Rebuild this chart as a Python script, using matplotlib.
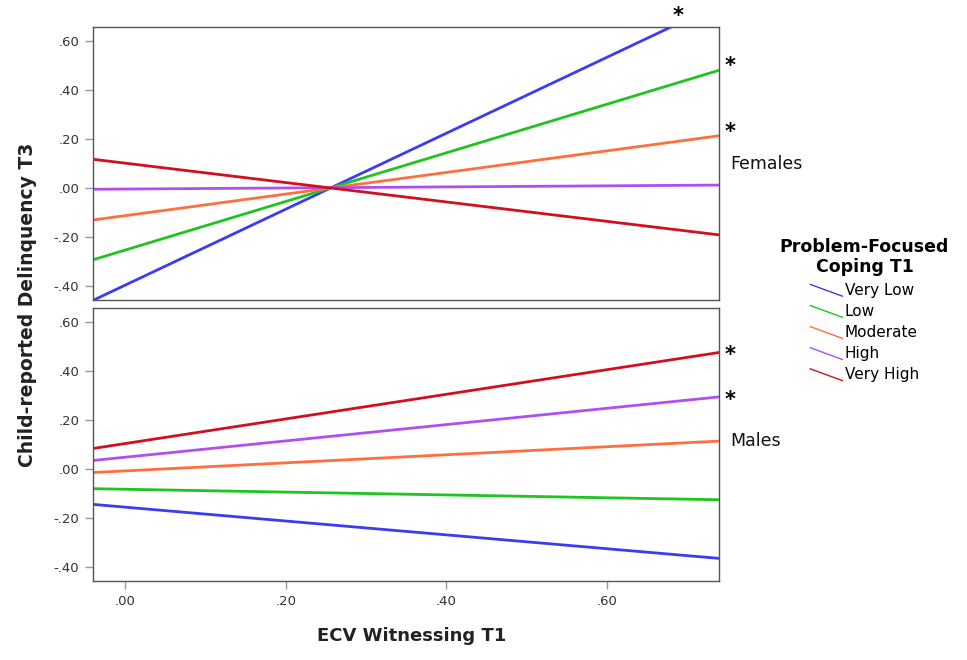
"""Simple slopes plot: ECV witnessing x problem-focused coping, by sex."""

import matplotlib
matplotlib.use("Agg")
import matplotlib.pyplot as plt
from matplotlib.lines import Line2D
from matplotlib.legend_handler import HandlerLine2D
from matplotlib.ticker import FuncFormatter

# ----------------------------------------------------------------------
# Data
# ----------------------------------------------------------------------
levels = ["Very Low", "Low", "Moderate", "High", "Very High"]
colors = ["#3b3bf2", "#1fc41f", "#ff6f3c", "#b04ff0", "#d0101e"]

x_ends = [-0.04, 0.74]

# predicted values at x_ends
females = {
    "Very Low":  [-0.456, 0.750],
    "Low":       [-0.291, 0.481],
    "Moderate":  [-0.129, 0.214],
    "High":      [-0.004, 0.013],
    "Very High": [0.118, -0.190],
}
males = {
    "Very Low":  [-0.143, -0.363],
    "Low":       [-0.079, -0.124],
    "Moderate":  [-0.013, 0.115],
    "High":      [0.036, 0.295],
    "Very High": [0.085, 0.476],
}

female_sig = ["Very Low", "Low", "Moderate"]
male_sig = ["Very High", "High"]

x_ticks = [0.0, 0.2, 0.4, 0.6]
y_ticks = [-0.4, -0.2, 0.0, 0.2, 0.4, 0.6]
xlim = (-0.04, 0.74)
ylim = (-0.455, 0.657)

GREY = "#555555"


def fmt(v, _pos=None):
    s = f"{v:.2f}"
    return s.replace("0.", ".", 1)


class DiagonalHandler(HandlerLine2D):
    """SPSS-style slanted legend sample."""

    def create_artists(self, legend, orig_handle, xdescent, ydescent,
                       width, height, fontsize, trans):
        line = Line2D([-xdescent, -xdescent + width],
                      [height * 0.95 - ydescent, -height * 0.15 - ydescent])
        self.update_prop(line, orig_handle, legend)
        line.set_transform(trans)
        return [line]


def style_axis(ax, show_x):
    ax.set_xlim(*xlim)
    ax.set_ylim(*ylim)
    ax.set_yticks(y_ticks)
    ax.yaxis.set_major_formatter(FuncFormatter(fmt))
    if show_x:
        ax.set_xticks(x_ticks)
        ax.xaxis.set_major_formatter(FuncFormatter(fmt))
    else:
        ax.set_xticks([])
    ax.tick_params(direction="out", length=6, width=1, color="#999999",
                   labelsize=9.5, labelcolor="#333333", pad=4)
    for sp in ax.spines.values():
        sp.set_color(GREY)
        sp.set_linewidth(1.0)


def draw_panel(ax, data, sig, label, label_y, star_dy):
    for name, col in zip(levels, colors):
        ax.plot(x_ends, data[name], color=col, lw=2.0, solid_capstyle="butt")
    for name in sig:
        y_end = data[name][1]
        if y_end > ylim[1]:
            # line leaves through the top: star just above the exit point
            x_exit = x_ends[0] + (ylim[1] - data[name][0]) / (y_end - data[name][0]) * (x_ends[1] - x_ends[0])
            ax.annotate("*", xy=(x_exit, ylim[1]), xytext=(7, 1),
                        textcoords="offset pixels", ha="center", va="bottom",
                        fontsize=15, fontweight="bold", annotation_clip=False)
        else:
            ax.annotate("*", xy=(x_ends[1], y_end), xytext=(11, star_dy),
                        textcoords="offset pixels", ha="center", va="center",
                        fontsize=15, fontweight="bold", annotation_clip=False)
    ax.text(1.017, label_y, label, transform=ax.transAxes, ha="left",
            va="center", fontsize=12.5, color="#111111")


fig = plt.figure(figsize=(9.67, 6.6), dpi=100)
ax_top = fig.add_axes([0.0965, 0.5455, 0.6473, 0.4136])
ax_bot = fig.add_axes([0.0965, 0.1197, 0.6473, 0.4136])

draw_panel(ax_top, females, female_sig, "Females", 0.498, 4)
draw_panel(ax_bot, males, male_sig, "Males", 0.512, -3)

style_axis(ax_top, show_x=False)
style_axis(ax_bot, show_x=True)

fig.text(0.028, 0.538, "Child-reported Delinquency T3", rotation=90,
         ha="center", va="center", fontsize=13.5, fontweight="bold",
         color="#222222")
fig.text(0.426, 0.036, "ECV Witnessing T1", ha="center", va="center",
         fontsize=13, fontweight="bold", color="#222222")

handles = [Line2D([], [], color=c, lw=1.0) for c in colors]
leg = fig.legend(handles, levels, loc="upper center",
                 bbox_to_anchor=(0.894, 1 - 230 / 660),
                 title="Problem-Focused\nCoping T1", frameon=False,
                 fontsize=11, handlelength=2.1, handletextpad=0.15,
                 labelspacing=0.4, borderpad=0,
                 title_fontproperties={"weight": "bold", "size": 12.5},
                 handler_map={Line2D: DiagonalHandler()})
leg.get_title().set_multialignment("center")

fig.savefig("out.png", dpi=100)
